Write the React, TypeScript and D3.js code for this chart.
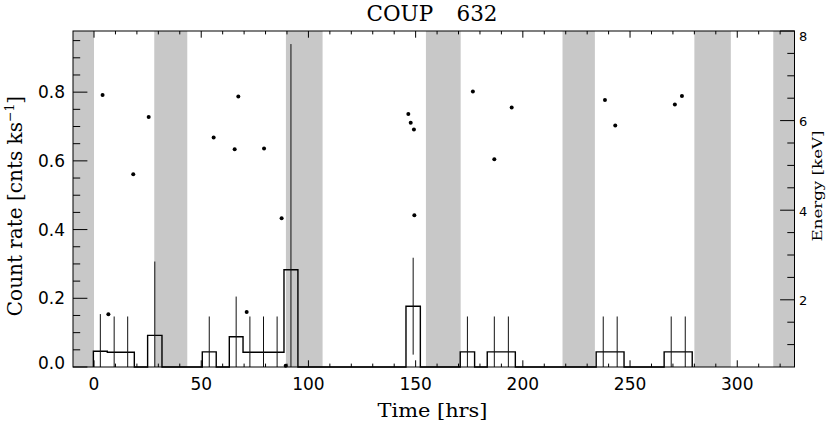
import React from "react";
import * as d3 from "d3";

// Time gaps (grey bands), hours
const gapStart = [-9.8, 28.1, 89.5, 154.8, 218.5, 280.0, 316.8];
const gapEnd = [0.0, 43.5, 106.6, 171.0, 233.6, 297.0, 326.7];

// Light-curve bins
const binStart = [-0.3, 6.2, 12.6, 25.0, 50.5, 63.1, 69.5, 75.9, 82.2, 88.6, 145.5, 170.8, 183.4, 190.0, 234.2, 240.8, 265.9, 272.5];
const binEnd = [6.2, 12.6, 18.8, 31.7, 57.0, 69.5, 75.9, 82.2, 88.6, 95.1, 152.2, 177.5, 190.0, 196.5, 240.8, 247.2, 272.5, 279.0];
const binRate = [0.046, 0.043, 0.043, 0.092, 0.044, 0.088, 0.043, 0.043, 0.043, 0.283, 0.177, 0.044, 0.044, 0.044, 0.044, 0.044, 0.044, 0.044];
const binErr = [0.108, 0.104, 0.104, 0.215, 0.103, 0.117, 0.104, 0.104, 0.104, 0.657, 0.141, 0.103, 0.103, 0.103, 0.103, 0.103, 0.103, 0.103];

// Individual photons
const photonTime = [4.0, 6.7, 18.3, 25.5, 55.8, 65.6, 67.3, 71.2, 79.3, 87.5, 89.4, 146.6, 147.7, 149.2, 149.4, 176.7, 186.7, 194.8, 238.3, 243.1, 270.9, 274.2];
const photonEnergy = [6.57, 1.68, 4.80, 6.08, 5.62, 5.36, 6.54, 1.73, 5.38, 3.82, 0.53, 6.15, 5.95, 5.80, 3.89, 6.65, 5.14, 6.29, 6.46, 5.89, 6.36, 6.55];

// Ticks
const timeMajor = [0, 50, 100, 150, 200, 250, 300];
const timeMinor = d3.range(10, 330, 10).filter((v) => v % 50 !== 0);
const rateMajor = [0, 0.2, 0.4, 0.6, 0.8];
const rateMinor = [0.05, 0.1, 0.15, 0.25, 0.3, 0.35, 0.45, 0.5, 0.55, 0.65, 0.7, 0.75, 0.85, 0.9, 0.95];
const energyMajor = [2, 4, 6, 8];
const energyMinor = [1, 1.5, 2.5, 3, 3.5, 4.5, 5, 5.5, 6.5, 7, 7.5];

const title = "COUP 632";

const L = 73, R = 794.5, T = 31, B = 367;

export default function App() {
  const x = d3.scaleLinear().domain([-9.8, 326.7]).range([L, R]);
  const y = d3.scaleLinear().domain([0, 0.978]).range([B, T]);
  const ye = d3.scaleLinear().domain([0.5, 8]).range([B, T]);

  // step path
  const pts: [number, number][] = [];
  for (let i = 0; i < binStart.length; i++) {
    const contiguous = i > 0 && Math.abs(binStart[i] - binEnd[i - 1]) < 0.01;
    if (!contiguous) {
      if (i > 0) pts.push([binEnd[i - 1], 0]);
      pts.push([binStart[i], 0]);
    }
    pts.push([binStart[i], binRate[i]]);
    pts.push([binEnd[i], binRate[i]]);
  }
  pts.push([binEnd[binEnd.length - 1], 0]);
  const line = d3.line<[number, number]>().x((d) => x(d[0])).y((d) => y(d[1]));

  const xMajLen = 6.7, xMinLen = 3.4, yMajLen = 14.4, yMinLen = 7.2;
  const serif = "'DejaVu Serif', serif";
  const sans = "'DejaVu Sans', sans-serif";
  const [t1, t2] = title.split(" ");

  return (
    <svg width={830} height={425} style={{ position: "absolute", left: 0, top: 0, background: "#fff" }}>
      <rect x={0} y={0} width={830} height={425} fill="#fff" />
      {gapStart.map((s, i) => (
        <rect key={"g" + i} x={x(s)} y={T} width={x(gapEnd[i]) - x(s)} height={B - T} fill="#c8c8c8" />
      ))}
      <path d={line(pts) || ""} fill="none" stroke="#000" strokeWidth={1.4} />
      {binStart.map((s, i) => {
        const m = (s + binEnd[i]) / 2;
        const lo = Math.max(0, binRate[i] - binErr[i]);
        const hi = binRate[i] + binErr[i];
        return <line key={"e" + i} x1={x(m)} x2={x(m)} y1={y(lo)} y2={y(hi)} stroke="#111" strokeWidth={1} />;
      })}
      {photonTime.map((t, i) => (
        <circle key={"p" + i} cx={x(t)} cy={ye(photonEnergy[i])} r={2} fill="#000" />
      ))}
      {/* frame */}
      <rect x={L} y={T} width={R - L} height={B - T} fill="none" stroke="#000" strokeWidth={1} />
      {/* x ticks */}
      {timeMajor.map((v) => (
        <g key={"xm" + v}>
          <line x1={x(v)} x2={x(v)} y1={B} y2={B - xMajLen} stroke="#000" />
          <line x1={x(v)} x2={x(v)} y1={T} y2={T + xMajLen} stroke="#000" />
          <text x={x(v)} y={390} textAnchor="middle" fontFamily={sans} fontSize={17}>{v}</text>
        </g>
      ))}
      {timeMinor.map((v) => (
        <g key={"xn" + v}>
          <line x1={x(v)} x2={x(v)} y1={B} y2={B - xMinLen} stroke="#000" />
          <line x1={x(v)} x2={x(v)} y1={T} y2={T + xMinLen} stroke="#000" />
        </g>
      ))}
      {/* left ticks */}
      {rateMajor.map((v) => (
        <g key={"ym" + v}>
          <line x1={L} x2={L + yMajLen} y1={y(v)} y2={y(v)} stroke="#000" />
          <text x={65} y={v === 0 ? 362.5 : y(v)} dominantBaseline="central" textAnchor="end" fontFamily={sans} fontSize={17}>{v.toFixed(1)}</text>
        </g>
      ))}
      {rateMinor.map((v) => (
        <line key={"yn" + v} x1={L} x2={L + yMinLen} y1={y(v)} y2={y(v)} stroke="#000" />
      ))}
      {/* right ticks */}
      {energyMajor.map((v) => (
        <g key={"em" + v}>
          <line x1={R} x2={R - yMajLen} y1={ye(v)} y2={ye(v)} stroke="#000" />
          <text x={799} y={v === 8 ? 36.7 : ye(v) + 1} dominantBaseline="central" textAnchor="start" fontFamily={sans} fontSize={13}>{v}</text>
        </g>
      ))}
      {energyMinor.map((v) => (
        <line key={"en" + v} x1={R} x2={R - yMinLen} y1={ye(v)} y2={ye(v)} stroke="#000" />
      ))}
      {/* titles */}
      <text y={20.7} fontFamily={serif} fontSize={21.5}>
        <tspan x={366.5}>{t1}</tspan>
        <tspan x={456.5}>{t2}</tspan>
      </text>
      <text x={432.5} y={417} textAnchor="middle" fontFamily={serif} fontSize={19} textLength={110} lengthAdjust="spacingAndGlyphs">Time [hrs]</text>
      <text transform="translate(22,206) rotate(-90)" textAnchor="middle" fontFamily={serif} fontSize={20}>
        Count rate [cnts ks<tspan fontSize={12.5} dy={-8}>−1</tspan><tspan dy={8}>]</tspan>
      </text>
      <text transform="translate(822,186) rotate(-90)" textAnchor="middle" fontFamily={serif} fontSize={13} textLength={111} lengthAdjust="spacingAndGlyphs">Energy [keV]</text>
    </svg>
  );
}
